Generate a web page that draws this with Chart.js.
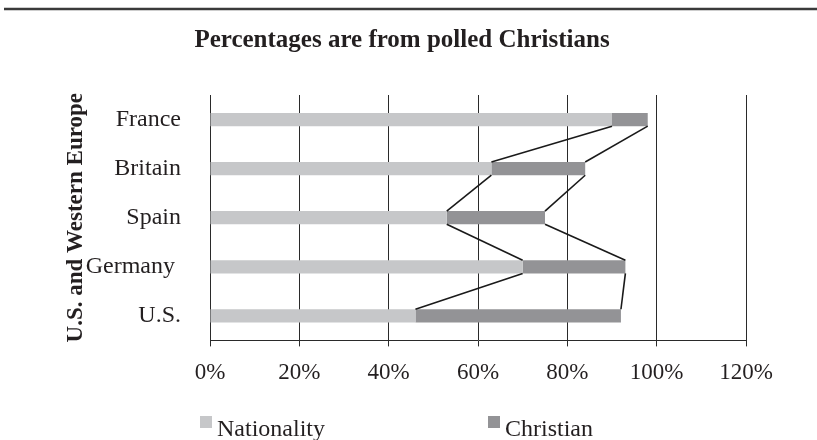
<!DOCTYPE html>
<html>
<head>
<meta charset="utf-8">
<title>Percentages are from polled Christians</title>
<script src="https://cdn.jsdelivr.net/npm/chart.js@4.4.1/dist/chart.umd.min.js"></script>
<style>
  body { margin: 0; background: #fff; }
  #wrap { width: 817px; height: 440px; }
</style>
</head>
<body>
<div id="wrap"><canvas id="pollChart" width="817" height="440"></canvas></div>
<script>
// countries, top to bottom
const countries = ["France", "Britain", "Spain", "Germany ", "U.S."];
// share of respondents (percent)
const nationality = [90, 63, 53, 70, 46];
const christian = [8, 21, 22, 23, 46];
const xTicks = [0, 20, 40, 60, 80, 100, 120];

const SERIF = "'Liberation Serif', 'Times New Roman', serif";
const INK = "#231f20";
const lightGray = "#c6c7c9";
const darkGray = "#939396";

// connector lines between the ends of each series, like Excel "series lines"
const seriesLines = {
  id: "seriesLines",
  afterDatasetsDraw(chart) {
    const ctx = chart.ctx;
    ctx.save();
    ctx.strokeStyle = "#1a1a1a";
    ctx.lineWidth = 1.6;
    chart.data.datasets.forEach((ds, d) => {
      const bars = chart.getDatasetMeta(d).data;
      for (let i = 0; i < bars.length - 1; i++) {
        const a = bars[i], b = bars[i + 1];
        ctx.beginPath();
        ctx.moveTo(a.x, a.y + a.height / 2);
        ctx.lineTo(b.x, b.y - b.height / 2);
        ctx.stroke();
      }
    });
    ctx.restore();
  }
};

// rule across the top and the legend underneath the axis
const decorations = {
  id: "decorations",
  afterDraw(chart) {
    const ctx = chart.ctx;
    ctx.save();
    ctx.strokeStyle = "#3a3a3a";
    ctx.lineWidth = 2.5;
    ctx.beginPath();
    ctx.moveTo(4, 9);
    ctx.lineTo(chart.width, 9);
    ctx.stroke();

    const legendX = [200, 488];
    ctx.font = "24px " + SERIF;
    ctx.textBaseline = "alphabetic";
    chart.data.datasets.forEach((ds, i) => {
      ctx.fillStyle = ds.backgroundColor;
      ctx.fillRect(legendX[i], 416, 12, 12);
      ctx.fillStyle = INK;
      ctx.fillText(ds.label, legendX[i] + 17, 436);
    });
    ctx.restore();
  }
};

const ctx = document.getElementById("pollChart").getContext("2d");
new Chart(ctx, {
  type: "bar",
  data: {
    labels: countries,
    datasets: [
      { label: "Nationality", data: nationality, backgroundColor: lightGray },
      { label: "Christian", data: christian, backgroundColor: darkGray }
    ]
  },
  options: {
    indexAxis: "y",
    responsive: false,
    animation: false,
    layout: { padding: { top: 14, left: 58, right: 71, bottom: 40 } },
    datasets: {
      bar: { categoryPercentage: 1, barPercentage: 0.27 }
    },
    scales: {
      x: {
        stacked: true,
        min: 0,
        max: 120,
        afterBuildTicks: function (scale) {
          scale.ticks = xTicks.map(v => ({ value: v }));
        },
        ticks: {
          color: INK,
          padding: 13,
          font: { family: SERIF, size: 23 },
          callback: v => v + "%"
        },
        grid: { color: "#2a2a2a", lineWidth: 1, tickLength: 6 },
        border: { color: "#2a2a2a", width: 1 }
      },
      y: {
        stacked: true,
        afterFit: function (scale) {
          scale.width = 210 - 58;
        },
        ticks: {
          color: INK,
          padding: 21,
          font: { family: SERIF, size: 24 }
        },
        grid: { display: false },
        border: { display: false },
        title: {
          display: true,
          text: "U.S. and Western Europe",
          color: INK,
          font: { family: SERIF, size: 23, weight: "bold" }
        }
      }
    },
    plugins: {
      legend: { display: false },
      tooltip: { enabled: false },
      title: {
        display: true,
        text: "Percentages are from polled Christians",
        color: INK,
        font: { family: SERIF, size: 25, weight: "bold" },
        padding: { top: 12, bottom: 39 }
      }
    }
  },
  plugins: [seriesLines, decorations]
});
</script>
</body>
</html>
